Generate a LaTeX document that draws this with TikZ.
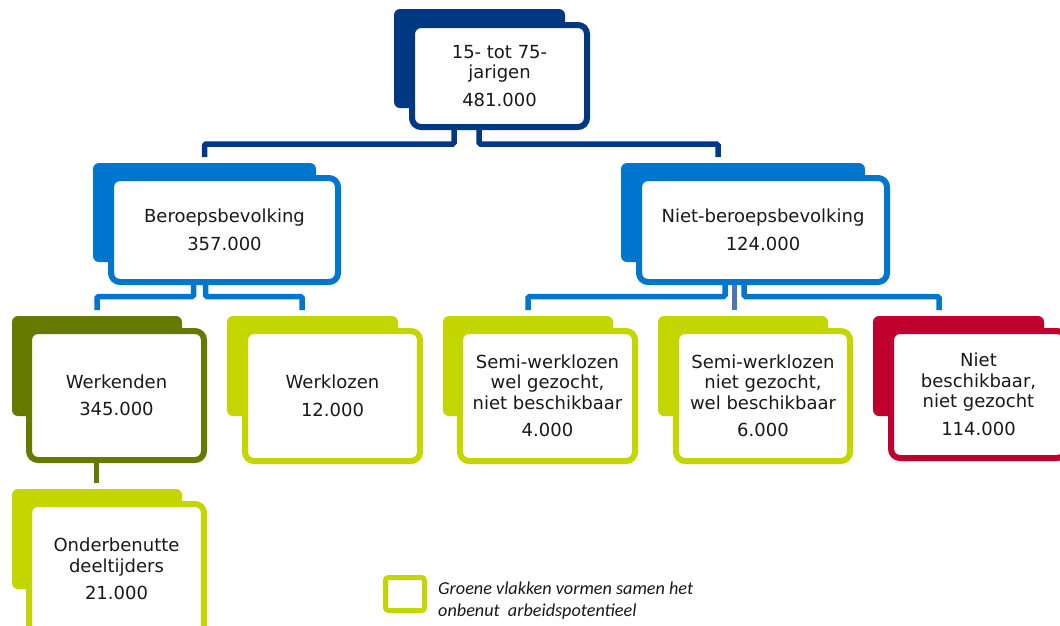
\documentclass[tikz,border=0pt]{standalone}
\usepackage{fontspec}
\setmainfont{DejaVu Sans}
\newfontfamily\legendfont{Carlito}
\definecolor{cDark}{RGB}{0,56,130}
\definecolor{cBlue}{RGB}{0,118,206}
\definecolor{cOlive}{RGB}{103,122,0}
\definecolor{cLime}{RGB}{196,214,0}
\definecolor{cRed}{RGB}{192,0,45}
\definecolor{cMid}{RGB}{74,118,180}
\definecolor{cText}{RGB}{25,25,25}
\begin{document}
\begin{tikzpicture}[x=1pt,y=-1pt,
  backbox/.style={fill=#1, rounded corners=6pt, inner sep=0pt, outer sep=0pt},
  frontbox/.style={draw=#1, line width=6pt, fill=white, rounded corners=9pt, inner sep=0pt,
    align=center, font=\fontsize{18}{20.5}\selectfont, text=cText},
  conn/.style={draw=#1, line width=5.5pt, rounded corners=1.5pt}
]
\path[use as bounding box, fill=white] (0,0) rectangle (1060,625);
\clip (0,0) rectangle (1060,625);

% top
\node[backbox=cDark, minimum width=171pt, minimum height=99pt] (topB) at (479.5,58.5) {};
\node[frontbox=cDark, minimum width=175pt, minimum height=102pt] (top) at (499.5,76) {15- tot 75-\\jarigen\\[7pt]481.000};

% level 2
\node[backbox=cBlue, minimum width=223pt, minimum height=99pt] (beroepB) at (204.5,212.5) {};
\node[frontbox=cBlue, minimum width=227pt, minimum height=104pt] (beroep) at (224.5,230) {Beroepsbevolking\\[7pt]357.000};
\node[backbox=cBlue, minimum width=244pt, minimum height=99pt] (nietbB) at (743,212.5) {};
\node[frontbox=cBlue, minimum width=248pt, minimum height=104pt] (nietb) at (763,230) {Niet-beroepsbevolking\\[7pt]124.000};

% level 3
\node[backbox=cOlive, minimum width=170pt, minimum height=100pt] (werkB) at (97,366) {};
\node[frontbox=cOlive, minimum width=175pt, minimum height=129pt] (werk) at (116.5,395.5) {Werkenden\\[7pt]345.000};
\node[backbox=cLime, minimum width=171pt, minimum height=100pt] (werklB) at (312.5,366) {};
\node[frontbox=cLime, minimum width=175pt, minimum height=130pt] (werkl) at (332.5,396) {Werklozen\\[7pt]12.000};
\node[backbox=cLime, minimum width=170pt, minimum height=100pt] (semiAB) at (528,366) {};
\node[frontbox=cLime, minimum width=175pt, minimum height=130pt] (semiA) at (547.5,396) {Semi-werklozen\\wel gezocht,\\niet beschikbaar\\[7pt]4.000};
\node[backbox=cLime, minimum width=170pt, minimum height=100pt] (semiBB) at (743,366) {};
\node[frontbox=cLime, minimum width=174pt, minimum height=130pt] (semiB) at (763,396) {Semi-werklozen\\niet gezocht,\\wel beschikbaar\\[7pt]6.000};
\node[backbox=cRed, minimum width=171pt, minimum height=100pt] (nietgB) at (958.5,366) {};
\node[frontbox=cRed, minimum width=175pt, minimum height=127pt] (nietg) at (978.5,394.5) {Niet\\beschikbaar,\\niet gezocht\\[7pt]114.000};

% level 4
\node[backbox=cLime, minimum width=170pt, minimum height=100pt] (onderB) at (97,539) {};
\node[frontbox=cLime, minimum width=175pt, minimum height=130pt] (onder) at (116.5,569) {Onderbenutte\\deeltijders\\[7pt]21.000};

% connector end points
\coordinate (nbIn) at (718,157);
\coordinate (wlIn) at (302,310);
\coordinate (s2In) at (734.5,310);
\coordinate (rdIn) at (939,310);
\coordinate (odIn) at (96.5,483);

% connectors
\draw[conn=cDark] (top.south -| 454,0) -- (454,144) -| ([yshift=6pt]beroepB.north);
\draw[conn=cDark] (top.south -| 479,0) -- (479,144) -| (nbIn);
\draw[conn=cBlue] (beroep.south -| 193.5,0) -- (193.5,296.5) -| ([yshift=6pt]werkB.north);
\draw[conn=cBlue] (beroep.south -| 205.5,0) -- (205.5,296.5) -| (wlIn);
\draw[conn=cBlue] (nietb.south -| 725,0) -- (725,296.5) -| ([yshift=6pt]semiAB.north);
\draw[conn=cMid] (nietb.south -| 734.5,0) -- (s2In);
\draw[conn=cBlue] (nietb.south -| 744,0) -- (744,296.5) -| (rdIn);
\draw[conn=cOlive] (werk.south -| 96.5,0) -- (odIn);

% legend
\node[draw=cLime, line width=5pt, rounded corners=3pt, minimum width=39pt, minimum height=33pt, inner sep=0pt] (leg) at (405,594) {};
\node[anchor=west, align=left, inner sep=0pt, text=cText,
  font=\legendfont\itshape\fontsize{18.2}{22}\selectfont] (legtxt) at (438,601)
  {Groene vlakken vormen samen het\\onbenut~ arbeidspotentieel};
\end{tikzpicture}
\end{document}
